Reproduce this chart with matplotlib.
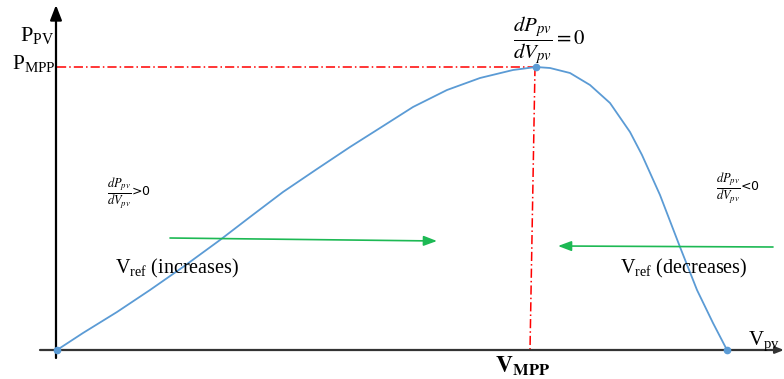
import matplotlib
matplotlib.use("Agg")
import matplotlib.pyplot as plt

V = [0, 26, 60, 93, 126, 163, 193, 226, 260, 293, 323, 356, 390, 423, 456, 479,
     493, 513, 533, 553, 573, 585, 603, 623, 640, 656, 670]
P = [0, 17, 38, 60, 83, 110, 133, 158, 181, 203, 222, 243, 260, 272, 280, 283,
     282, 277, 265, 247, 218, 195, 155, 103, 60, 27, 0]
V_mpp = 479
P_mpp = 283
V_end = 670

plt.rcParams['mathtext.fontset'] = 'stix'

fig = plt.figure(figsize=(7.84, 3.79), dpi=100)
ax = fig.add_axes([0, 0, 1, 1])
ax.set_xlim(-57, 784 - 57)
ax.set_ylim(350 - 379, 350)
ax.axis('off')

blue = '#5b9bd5'
green = '#1db954'
serif = 'Liberation Serif'

# axes lines
ax.annotate('', xy=(-1, 345), xytext=(-1, -8),
            arrowprops=dict(arrowstyle='-|>,head_length=0.9,head_width=0.35',
                            color='black', lw=1.6, shrinkA=0, shrinkB=0))
ax.annotate('', xy=(727, 0), xytext=(-17, 0),
            arrowprops=dict(arrowstyle='-|>,head_length=0.5,head_width=0.2',
                            color='#333333', lw=1.6, shrinkA=0, shrinkB=0))

# red dash-dot guides
ax.plot([0, V_mpp], [P_mpp, P_mpp], color='red', lw=1.1, ls=(0, (6, 2, 1, 2)))
ax.plot([V_mpp - 1, V_mpp - 6], [P_mpp, 0], color='red', lw=1.1,
        ls=(0, (6, 2, 1, 2)))

# curve
ax.plot(V, P, color=blue, lw=1.3, zorder=3, solid_joinstyle='round')
ax.plot([0, V_mpp, V_end], [0, P_mpp, 0], 'o', color=blue, ms=4.5, zorder=4)

# green arrows
ax.annotate('', xy=(380, 109), xytext=(113, 112),
            arrowprops=dict(arrowstyle='-|>,head_length=0.8,head_width=0.3',
                            color=green, lw=1.2, shrinkA=0, shrinkB=0))
ax.annotate('', xy=(501, 104), xytext=(716, 103),
            arrowprops=dict(arrowstyle='-|>,head_length=0.8,head_width=0.3',
                            color=green, lw=1.2, shrinkA=0, shrinkB=0))

# labels
ax.text(-37, 315, r'$\mathregular{P_{PV}}$', family=serif, fontsize=16,
        ha='left', va='center')
ax.text(-45, 287, r'$\mathregular{P_{MPP}}$', family=serif, fontsize=15.5,
        ha='left', va='center')
ax.text(466, -16, r'$\mathbf{V_{MPP}}$', fontsize=17,
        ha='center', va='center')
ax.text(691, 9, r'$\mathregular{V_{pv}}$', family=serif, fontsize=15,
        ha='left', va='center')
ax.text(492, 310, r'$\dfrac{dP_{pv}}{dV_{pv}} = 0$', fontsize=15,
        ha='center', va='center')
ax.text(50, 157, r'$\dfrac{dP_{pv}}{dV_{pv}}$>0', fontsize=9,
        ha='left', va='center')
ax.text(659, 162, r'$\dfrac{dP_{pv}}{dV_{pv}}$<0', fontsize=9,
        ha='left', va='center')
ax.text(58, 82, r'$\mathregular{V_{ref}}$ (increases)', family=serif,
        fontsize=14.5, ha='left', va='center')
ax.text(563, 82, r'$\mathregular{V_{ref}}$ (decreases)', family=serif,
        fontsize=14.5, ha='left', va='center')

fig.savefig('out.png', dpi=100)
